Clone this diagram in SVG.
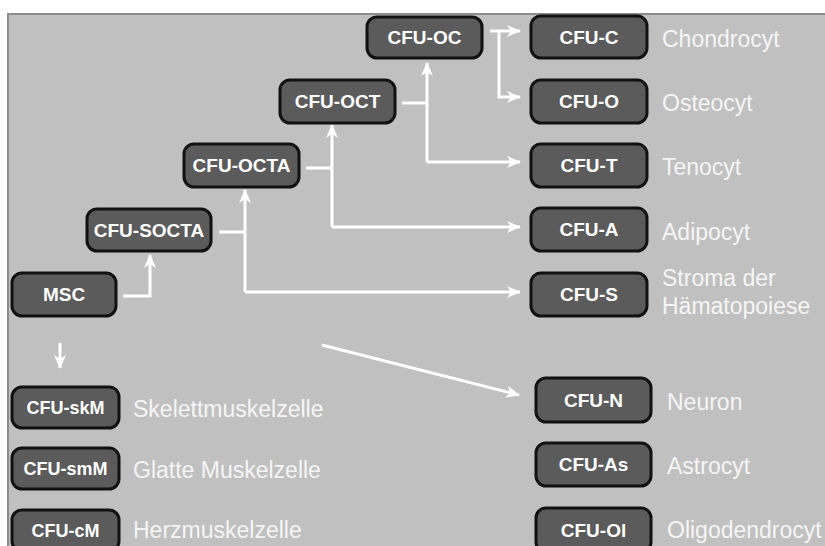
<svg xmlns="http://www.w3.org/2000/svg" width="825" height="546" viewBox="0 0 825 546">
<defs>
<style>
.n rect{fill:#5b5b5b;stroke:#111;stroke-width:3}
.n text{fill:#fff;font-family:"Liberation Sans",Arial,sans-serif;font-weight:bold;font-size:19px;text-anchor:middle}
.n.s text{font-size:18px}
.lbl{fill:#f5f5f5;font-family:"Liberation Sans",Arial,sans-serif;font-size:23px}
.c path{fill:none;stroke:#fff;stroke-width:3}
</style>
<marker id="ah" markerUnits="userSpaceOnUse" markerWidth="14" markerHeight="14" refX="13" refY="7" orient="auto" viewBox="0 0 14 14">
<path d="M0,1 L14,7 L0,13 L4,7 z" fill="#fff"/>
</marker>
</defs>
<rect x="0" y="0" width="825" height="546" fill="#fff"/>
<rect x="8" y="14" width="830" height="545" fill="#c0c0c0" stroke="#8c8c8c" stroke-width="2"/>

<g class="c" id="connectors">
<path d="M123,296 H150 V255" marker-end="url(#ah)"/>
<path d="M219,232 H245"/>
<path d="M245,292 V190" marker-end="url(#ah)"/>
<path d="M245,292 H520" marker-end="url(#ah)"/>
<path d="M306,168 H332"/>
<path d="M332,227 V125" marker-end="url(#ah)"/>
<path d="M332,227 H520" marker-end="url(#ah)"/>
<path d="M402,103 H427"/>
<path d="M427,162 V63" marker-end="url(#ah)"/>
<path d="M427,162 H520" marker-end="url(#ah)"/>
<path d="M490,31 H520" marker-end="url(#ah)"/>
<path d="M499,31 V97 H520" marker-end="url(#ah)"/>
<path d="M60,343 V368" marker-end="url(#ah)"/>
<path d="M322,345 L519,395" marker-end="url(#ah)"/>
</g>

<g class="n" id="n-oc"><rect x="367" y="17" width="115" height="41" rx="10"/><text x="424.5" y="44">CFU-OC</text></g>
<g class="n" id="n-oct"><rect x="280" y="80" width="115" height="43" rx="10"/><text x="337.5" y="108">CFU-OCT</text></g>
<g class="n" id="n-octa"><rect x="184" y="144" width="115" height="43" rx="10"/><text x="241.5" y="172">CFU-OCTA</text></g>
<g class="n" id="n-socta"><rect x="87" y="209" width="124" height="42" rx="10"/><text x="149" y="237">CFU-SOCTA</text></g>
<g class="n" id="n-msc"><rect x="12" y="273" width="104" height="43" rx="10"/><text x="64" y="301">MSC</text></g>

<g class="n" id="n-c"><rect x="531" y="16" width="116" height="42" rx="10"/><text x="589" y="44">CFU-C</text></g>
<g class="n" id="n-o"><rect x="531" y="80" width="116" height="43" rx="10"/><text x="589" y="108">CFU-O</text></g>
<g class="n" id="n-t"><rect x="531" y="144" width="116" height="43" rx="10"/><text x="589" y="172">CFU-T</text></g>
<g class="n" id="n-a"><rect x="531" y="208" width="116" height="43" rx="10"/><text x="589" y="236">CFU-A</text></g>
<g class="n" id="n-s"><rect x="531" y="273" width="116" height="43" rx="10"/><text x="589" y="301">CFU-S</text></g>

<g class="n" id="n-n"><rect x="536" y="378" width="115" height="44" rx="10"/><text x="593.5" y="406.5">CFU-N</text></g>
<g class="n" id="n-as"><rect x="536" y="443" width="115" height="43" rx="10"/><text x="593.5" y="471">CFU-As</text></g>
<g class="n" id="n-ol"><rect x="536" y="508" width="115" height="44" rx="10"/><text x="593.5" y="536.5">CFU-Ol</text></g>

<g class="n s" id="n-skm"><rect x="12" y="387" width="107" height="41" rx="10"/><text x="65.5" y="414">CFU-skM</text></g>
<g class="n s" id="n-smm"><rect x="12" y="448" width="107" height="41" rx="10"/><text x="65.5" y="475">CFU-smM</text></g>
<g class="n s" id="n-cm"><rect x="12" y="510" width="107" height="41" rx="10"/><text x="65.5" y="537">CFU-cM</text></g>

<g id="labels">
<text class="lbl" x="662" y="47">Chondrocyt</text>
<text class="lbl" x="662" y="111">Osteocyt</text>
<text class="lbl" x="662" y="175">Tenocyt</text>
<text class="lbl" x="662" y="240">Adipocyt</text>
<text class="lbl" x="662" y="286">Stroma der</text>
<text class="lbl" x="662" y="314">Hämatopoiese</text>
<text class="lbl" x="667" y="410">Neuron</text>
<text class="lbl" x="667" y="474">Astrocyt</text>
<text class="lbl" x="667" y="538">Oligodendrocyt</text>
<text class="lbl" x="133" y="417">Skelettmuskelzelle</text>
<text class="lbl" x="133" y="478">Glatte Muskelzelle</text>
<text class="lbl" x="133" y="538">Herzmuskelzelle</text>
</g>
</svg>
